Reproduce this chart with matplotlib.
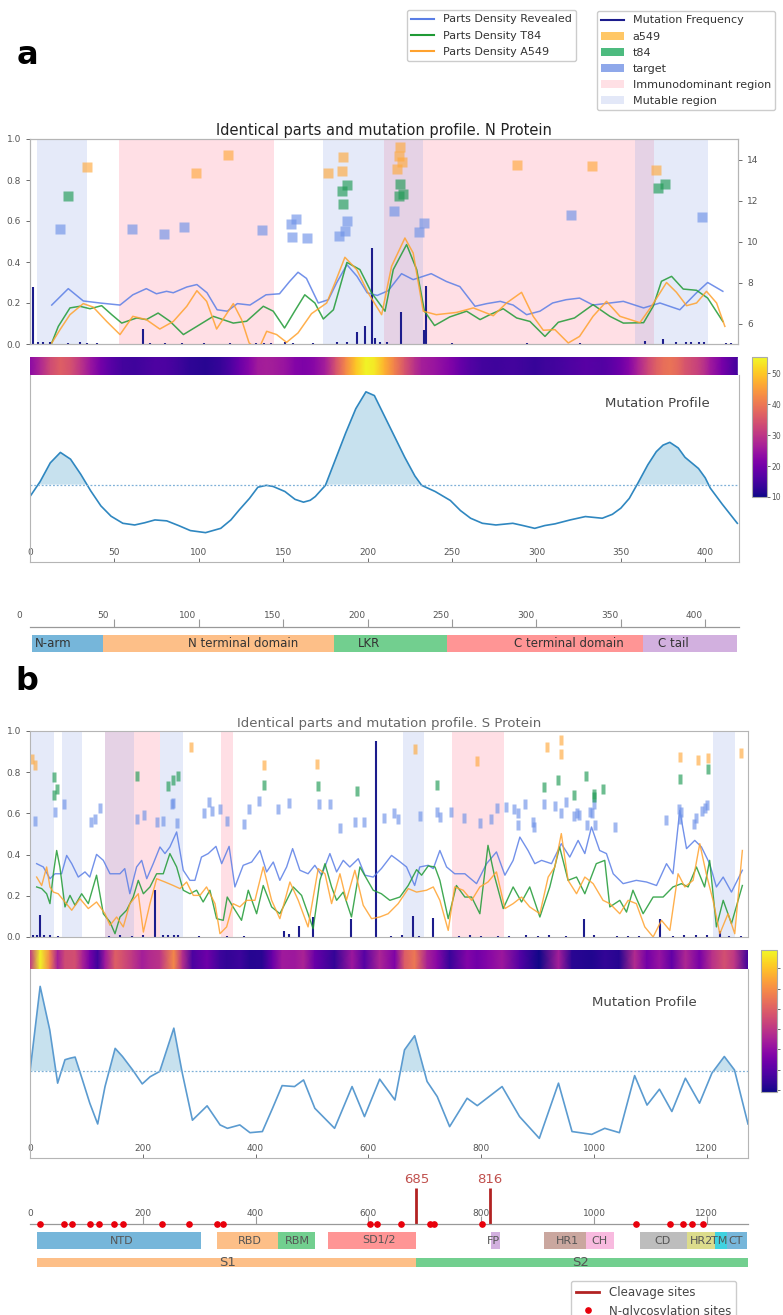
import matplotlib
matplotlib.use("Agg")
import matplotlib.pyplot as plt
import numpy as np
from matplotlib.lines import Line2D
from matplotlib.patches import Patch
from matplotlib.colors import Normalize

W, H = 783, 1315

# ---------------- N protein data ----------------
N_LEN = 420
n_mutable = [(4, 34), (174, 233), (359, 402)]
n_immuno = [(53, 145), (210, 370)]

n_rev_x = [12.9, 22.7, 31.6, 41.5, 53.4, 61, 69, 75, 81, 85, 93, 99, 105, 111, 117, 123, 130.5, 140, 148, 154,
           159, 164, 171, 177, 182, 188, 194, 200, 206, 212.5, 220.4, 227.3, 238, 247, 255, 264, 271, 279, 286.6,
           294.6, 302.5, 310, 318, 326, 334, 344, 352, 364, 373.7, 385.5, 395.4, 402, 411]
n_rev_y = [0.19, 0.27, 0.21, 0.20, 0.19, 0.24, 0.27, 0.245, 0.257, 0.25, 0.278, 0.29, 0.25, 0.167, 0.16, 0.197,
           0.19, 0.24, 0.245, 0.305, 0.35, 0.32, 0.2, 0.216, 0.3, 0.387, 0.33, 0.25, 0.237, 0.26, 0.343, 0.314,
           0.343, 0.305, 0.28, 0.184, 0.197, 0.208, 0.19, 0.143, 0.16, 0.2, 0.216, 0.224, 0.19, 0.2, 0.208, 0.176,
           0.2, 0.167, 0.25, 0.3, 0.257]
n_t84_x = [12.9, 16.8, 23.7, 29.6, 35.6, 42.5, 48.5, 54.4, 63.3, 69, 76, 83, 91, 99, 108.7, 120.6, 128.5, 138.4,
           144.3, 151, 157, 163, 169, 174, 180, 188, 195.7, 202.7, 210.6, 215.5, 223.4, 229.4, 234, 240, 249, 259,
           267, 272.8, 280.7, 288.7, 296.6, 305.5, 313.4, 323, 334, 344, 352, 364, 369.7, 374.6, 380.6, 387.5,
           395.4, 402, 411]
n_t84_y = [0.005, 0.086, 0.176, 0.184, 0.172, 0.187, 0.143, 0.102, 0.127, 0.119, 0.151, 0.111, 0.046, 0.086,
           0.135, 0.102, 0.111, 0.184, 0.16, 0.078, 0.16, 0.24, 0.2, 0.122, 0.167, 0.398, 0.363, 0.249, 0.16,
           0.363, 0.485, 0.363, 0.16, 0.09, 0.132, 0.16, 0.119, 0.143, 0.172, 0.127, 0.11, 0.037, 0.106, 0.127,
           0.192, 0.135, 0.102, 0.104, 0.184, 0.306, 0.33, 0.268, 0.262, 0.224, 0.11]
n_a549_x = [12.9, 17.8, 23.7, 31.6, 37.5, 45.5, 53.4, 61, 69, 77, 85, 93, 99, 104.8, 110.7, 120.6, 125.5, 130,
            135.4, 140.4, 146.3, 152.2, 159, 167, 176, 181, 186.8, 193.8, 200.6, 208.6, 214.5, 222.4, 227.3,
            233.3, 241, 253, 263, 274.8, 282.7, 291.6, 298.5, 304.5, 311.4, 319.3, 326, 334, 342, 350, 361.8,
            368.7, 377.6, 383.5, 389.5, 395.4, 401.3, 407.3, 412.2]
n_a549_y = [0.005, 0.07, 0.143, 0.197, 0.18, 0.11, 0.046, 0.135, 0.119, 0.073, 0.11, 0.184, 0.26, 0.208, 0.073,
            0.197, 0.119, 0.005, -0.03, 0.062, 0.046, 0.008, 0.054, 0.148, 0.2, 0.3, 0.423, 0.363, 0.249, 0.143,
            0.379, 0.517, 0.444, 0.16, 0.143, 0.154, 0.176, 0.138, 0.2, 0.252, 0.135, 0.067, 0.07, 0.005, 0.037,
            0.135, 0.208, 0.135, 0.104, 0.184, 0.3, 0.252, 0.187, 0.2, 0.257, 0.2, 0.086]

n_target_x = [17.8, 60.7, 79.7, 91.5, 137.8, 154.8, 157.6, 155.6, 164.5, 183.5, 186.8, 187.8, 215.7, 230.7,
              233.7, 320.7, 398.8]
n_target_y = [0.563, 0.561, 0.537, 0.569, 0.558, 0.587, 0.61, 0.52, 0.517, 0.525, 0.553, 0.598, 0.65, 0.545,
              0.59, 0.631, 0.62]
n_t84m_x = [22.7, 184.8, 187.8, 185.8, 219.4, 218.9, 221, 372.7, 376.6]
n_t84m_y = [0.72, 0.745, 0.774, 0.685, 0.782, 0.724, 0.733, 0.761, 0.78]
n_a549m_x = [33.6, 98.5, 117.6, 176.6, 185.8, 184.8, 219.4, 218.9, 220.9, 217.5, 288.7, 333.5, 371.5]
n_a549m_y = [0.862, 0.834, 0.924, 0.834, 0.91, 0.842, 0.959, 0.919, 0.888, 0.854, 0.875, 0.867, 0.85]

n_mut_x = [2, 4.9, 7.9, 11.9, 22.7, 29.6, 34, 39.5, 66.8, 71, 80, 90, 103.4, 118.6, 134, 139, 143, 151, 156,
           168, 182, 188, 193.8, 198.7, 203, 204.6, 207.6, 211.5, 219.8, 233.9, 234.7, 250.5, 295, 326, 364.8,
           375.6, 383, 389, 392, 397, 400, 413, 416]
n_mut_y = [0.28, 0.01, 0.008, 0.01, 0.006, 0.008, 0.007, 0.005, 0.073, 0.005, 0.006, 0.006, 0.005, 0.005,
           0.006, 0.005, 0.007, 0.01, 0.006, 0.005, 0.008, 0.01, 0.057, 0.09, 0.47, 0.03, 0.01, 0.008, 0.154,
           0.07, 0.285, 0.006, 0.005, 0.006, 0.015, 0.025, 0.01, 0.012, 0.008, 0.01, 0.008, 0.006, 0.006]

n_prof_x = [0, 6, 12, 18, 24, 30, 36, 42, 48, 55, 62, 68, 74, 81, 88, 95, 104, 113, 119, 124, 130, 135, 140,
            144, 151, 157, 162, 166, 169, 175, 181, 187, 193, 199, 204, 210, 216, 222, 228, 232, 240, 249, 255,
            261, 268, 276, 286, 292, 299, 305, 311, 320, 329, 339, 345, 350, 355, 360, 366, 371, 375, 379, 384,
            388, 392, 396, 400, 403, 410, 419]
n_prof_y = [35, 43, 53, 58.6, 55, 47, 38, 30, 24.5, 20.7, 19.8, 21, 22.5, 22, 19.5, 16.8, 15.7, 18, 22.5, 27.9,
            34, 40, 41, 40.4, 37.7, 33.5, 32, 33, 35, 41, 55, 69, 82, 91, 89, 78, 67, 56, 46, 41, 37.7, 32.9,
            27.5, 23.4, 20.7, 19.8, 20.7, 19.5, 18, 19.5, 20.4, 22.5, 24.3, 23.4, 25.5, 28.8, 34, 42, 52, 59,
            62.5, 64, 61, 56, 53, 50, 45, 39.5, 31, 20.7]
n_thr = 41.4

n_dom_names = ["N-arm", "N terminal domain", "LKR", "C terminal domain", "C tail"]
n_dom_start = [1, 43, 180, 247, 363]
n_dom_end = [43, 180, 247, 363, 419]
n_dom_label_x = [14, 126, 201, 319, 381]
n_dom_colors = ["#76b6da", "#fdbf88", "#72cf8f", "#ff9595", "#d2b0df"]

# ---------------- S protein data ----------------
S_LEN = 1273
s_mutable = [(1, 42.5), (57, 91.6), (133, 184), (230, 272), (660.5, 698), (1211, 1250)]
s_immuno = [(133, 230), (338.5, 360), (749, 840)]

s_rev_x = [11.8, 23.6, 35.4, 44.3, 56, 65, 74, 85.6, 97.5, 106, 118, 130, 141.8, 159.5, 168, 177, 189, 198,
           207, 218.5, 230.4, 239.3, 248, 260, 271.7, 283.6, 292.4, 304, 316, 329.7, 339.8, 353, 363.3, 378,
           393, 407.7, 419.5, 431.3, 443, 455, 465.6, 478.5, 493, 505, 517, 531.7, 543.6, 555.4, 567, 582,
           593.8, 608.5, 623, 641, 652.8, 667.6, 682, 691, 706, 715, 726.7, 738.6, 753, 771, 791.7, 809.5, 827,
           842, 856.6, 868.5, 883, 895, 907, 924.6, 942, 957, 971.8, 983.7, 995.5, 1010, 1022, 1034, 1051.6,
           1075, 1093, 1110.8, 1128.5, 1140, 1152, 1164, 1178.6, 1190.5, 1205, 1217, 1229, 1243.7, 1263]
s_rev_y = [0.356, 0.34, 0.283, 0.307, 0.307, 0.396, 0.356, 0.291, 0.316, 0.291, 0.401, 0.372, 0.307, 0.307,
           0.332, 0.21, 0.34, 0.372, 0.283, 0.356, 0.437, 0.405, 0.437, 0.51, 0.324, 0.275, 0.275, 0.388, 0.405,
           0.44, 0.356, 0.44, 0.243, 0.348, 0.364, 0.42, 0.316, 0.364, 0.275, 0.34, 0.429, 0.324, 0.307, 0.348,
           0.3, 0.405, 0.316, 0.372, 0.34, 0.38, 0.3, 0.291, 0.332, 0.396, 0.372, 0.34, 0.25, 0.34, 0.348, 0.332,
           0.42, 0.34, 0.307, 0.307, 0.259, 0.356, 0.413, 0.3, 0.372, 0.485, 0.42, 0.356, 0.372, 0.356, 0.453,
           0.388, 0.469, 0.405, 0.534, 0.42, 0.405, 0.307, 0.259, 0.275, 0.267, 0.25, 0.356, 0.307, 0.615,
           0.429, 0.469, 0.437, 0.356, 0.243, 0.291, 0.218, 0.324]
s_t84_x = [11.8, 20.7, 29.5, 35.4, 41.4, 47.3, 53, 62, 70.9, 79.8, 91.6, 103.4, 118, 130, 141.8, 150.7, 159.5,
           171.3, 183, 192, 201, 212.7, 224.5, 236.3, 248, 260, 271.7, 283.6, 295.4, 307, 319, 330.8, 342.6,
           349.7, 360, 375, 387, 401.8, 413.5, 428.4, 443, 455, 466.7, 481.5, 493, 502, 514, 523, 534.7, 543.6,
           555.4, 570, 584.9, 596.8, 608.5, 623, 638, 655.8, 670.6, 685.4, 694.3, 706, 718, 726.7, 741.5, 756,
           771, 783, 797.6, 812, 824, 839, 856.6, 871.5, 886, 904, 921.6, 939, 954, 969, 983.7, 1004, 1019,
           1028, 1045.7, 1057.6, 1069, 1087, 1104.8, 1122.5, 1140, 1155, 1166.8, 1181.6, 1196, 1205, 1217,
           1229, 1243.7, 1263]
s_t84_y = [0.243, 0.235, 0.21, 0.162, 0.307, 0.42, 0.34, 0.146, 0.202, 0.154, 0.21, 0.162, 0.3, 0.113, 0.073,
           0.016, 0.097, 0.13, 0.194, 0.275, 0.21, 0.243, 0.307, 0.307, 0.405, 0.34, 0.227, 0.21, 0.227, 0.17,
           0.227, 0.089, 0.081, 0.194, 0.146, 0.081, 0.227, 0.113, 0.25, 0.146, 0.113, 0.178, 0.243, 0.202,
           0.113, 0.04, 0.275, 0.356, 0.243, 0.178, 0.218, 0.097, 0.34, 0.283, 0.227, 0.21, 0.178, 0.194, 0.25,
           0.327, 0.3, 0.345, 0.34, 0.275, 0.089, 0.25, 0.194, 0.194, 0.113, 0.445, 0.291, 0.138, 0.243, 0.17,
           0.243, 0.097, 0.243, 0.437, 0.275, 0.291, 0.21, 0.356, 0.372, 0.146, 0.178, 0.121, 0.227, 0.113,
           0.194, 0.194, 0.243, 0.259, 0.243, 0.34, 0.243, 0.372, 0.049, 0.178, 0.065, 0.25]
s_a549_x = [11.8, 20.7, 29.5, 35.4, 41.4, 50, 62, 74, 88.6, 103.4, 118, 133, 141.8, 153.6, 165.4, 177, 192,
            201, 212.7, 224.5, 239.3, 254, 265.9, 277.7, 289.5, 301.3, 313, 328, 336.8, 348.6, 360, 372, 384,
            398.8, 413.5, 428.4, 443, 460.8, 475.6, 493, 511, 523, 534.7, 549.5, 561, 576, 590.8, 605.6, 620,
            635, 652.8, 670.6, 685.4, 703, 715, 726.7, 741.5, 753, 768, 783, 797.6, 812, 827, 842, 856.6, 871.5,
            886, 904, 918.7, 930.5, 942, 954, 969, 983.7, 998.5, 1016, 1028, 1045.7, 1060.5, 1075, 1090, 1104.8,
            1119.6, 1134.4, 1149, 1161, 1175.6, 1187.5, 1199, 1211, 1223, 1237.6, 1249.5, 1263]
s_a549_y = [0.291, 0.25, 0.34, 0.243, 0.218, 0.21, 0.17, 0.13, 0.186, 0.138, 0.17, 0.113, 0.057, 0.097, 0.049,
            0.162, 0.21, 0.024, 0.162, 0.283, 0.267, 0.25, 0.235, 0.267, 0.202, 0.202, 0.243, 0.162, 0.016,
            0.049, 0.162, 0.146, 0.178, 0.178, 0.34, 0.178, 0.089, 0.267, 0.178, 0.049, 0.332, 0.307, 0.162,
            0.307, 0.178, 0.324, 0.154, 0.089, 0.097, 0.113, 0.162, 0.235, 0.218, 0.227, 0.243, 0.178, 0.032,
            0.243, 0.227, 0.178, 0.243, 0.267, 0.316, 0.138, 0.162, 0.194, 0.146, 0.113, 0.291, 0.34, 0.502,
            0.275, 0.21, 0.291, 0.259, 0.178, 0.162, 0.113, 0.178, 0.162, 0.049, 0.0, 0.081, 0.032, 0.307,
            0.243, 0.275, 0.453, 0.307, 0.178, 0.016, 0.113, 0.016, 0.42]

s_target_x = [8.9, 44.3, 60, 109, 116, 124, 189, 202, 225.6, 235, 251, 254, 261, 309, 318, 322, 336.8, 349.7,
              380, 388.7, 406.4, 440, 459.6, 512.8, 531.7, 549.5, 576, 592, 628, 645, 652.8, 691, 722, 726.7,
              745.6, 769, 797.6, 818, 828, 843.7, 858, 865.5, 865.5, 877, 891, 893, 911, 930.5, 942, 949.5,
              964.7, 969, 973, 987.8, 992.6, 996.6, 1001.4, 1000, 1037, 1128.5, 1150.8, 1152, 1155, 1177,
              1180.4, 1192.3, 1196.4, 1201]
s_target_y = [0.563, 0.607, 0.644, 0.558, 0.574, 0.628, 0.574, 0.59, 0.558, 0.563, 0.644, 0.65, 0.553, 0.6,
              0.655, 0.61, 0.623, 0.563, 0.547, 0.62, 0.66, 0.623, 0.652, 0.644, 0.644, 0.531, 0.558, 0.558,
              0.579, 0.6, 0.574, 0.586, 0.607, 0.583, 0.607, 0.579, 0.553, 0.574, 0.628, 0.631, 0.623, 0.6,
              0.542, 0.647, 0.558, 0.534, 0.644, 0.634, 0.6, 0.655, 0.586, 0.6, 0.591, 0.542, 0.607, 0.6, 0.542,
              0.647, 0.534, 0.57, 0.623, 0.574, 0.607, 0.55, 0.579, 0.612, 0.628, 0.639]
s_t84m_x = [43, 47.3, 42.5, 189, 244, 254, 261.7, 414.7, 511, 579, 720.8, 911, 936.4, 964, 985.5, 1000, 1000,
            1015.6, 1152, 1202]
s_t84m_y = [0.777, 0.72, 0.688, 0.78, 0.731, 0.764, 0.78, 0.736, 0.731, 0.709, 0.736, 0.728, 0.76, 0.688,
            0.78, 0.693, 0.68, 0.72, 0.765, 0.817]
s_a549m_x = [4, 8.9, 284.8, 414.7, 509, 682, 793, 915.8, 941, 941.6, 1152, 1184.5, 1202, 1260]
s_a549m_y = [0.866, 0.833, 0.922, 0.833, 0.841, 0.911, 0.853, 0.922, 0.958, 0.887, 0.874, 0.861, 0.87, 0.895]

s_mut_x = [5, 12, 17.7, 25, 35, 50, 140, 160, 180, 200, 221.5, 235, 245, 255, 262, 300, 350, 380, 450, 460,
           477, 501, 570, 613, 640, 660, 679, 690, 715, 760, 780, 800, 830, 850, 880, 900, 920, 950, 982.5,
           1000, 1040, 1060, 1080, 1116.6, 1140, 1160, 1180, 1200, 1223, 1240, 1260]
s_mut_y = [0.012, 0.01, 0.105, 0.008, 0.01, 0.006, 0.006, 0.008, 0.006, 0.01, 0.227, 0.008, 0.01, 0.012, 0.008,
           0.006, 0.006, 0.005, 0.03, 0.015, 0.055, 0.097, 0.089, 0.951, 0.006, 0.008, 0.1, 0.006, 0.094, 0.006,
           0.008, 0.005, 0.006, 0.005, 0.008, 0.006, 0.01, 0.006, 0.089, 0.008, 0.006, 0.006, 0.005, 0.089,
           0.006, 0.01, 0.008, 0.01, 0.03, 0.006, 0.005]

s_prof_x = [0, 18, 35, 49, 62, 71, 80, 93, 106, 120, 133, 151, 164, 182, 199, 213, 230, 255, 270, 288, 314,
            337, 350, 372, 390, 412, 430, 447, 469, 485, 505, 540, 571, 593, 620, 647, 664, 682, 704, 722, 744,
            775, 793, 810, 837, 868, 903, 937, 961, 996, 1019, 1045, 1072, 1094, 1116, 1138, 1162, 1187, 1209,
            1231, 1249, 1273]
s_prof_y = [45.8, 90.8, 67.8, 39.6, 52, 52.8, 53.4, 41.3, 29, 18, 37.8, 58, 53.7, 46.6, 39.2, 43, 45.8, 68.7,
            44.9, 20, 27.6, 17.5, 15.7, 17.5, 13.4, 14, 26.3, 38.3, 37.8, 41.3, 26.3, 15.7, 37.8, 21.9, 41.7,
            30.7, 57.2, 64.7, 40.5, 32.5, 16.6, 31.6, 27.7, 31.6, 37.8, 21.9, 10.4, 39.6, 14, 12.5, 15.7, 13.4,
            43.6, 28, 36.4, 24.6, 42.2, 29, 44.9, 53.7, 46.6, 18]
s_thr = 46.1

s_dom_names = ["NTD", "RBD", "RBM", "SD1/2", "FP", "HR1", "CH", "CD", "HR2", "TM", "CT"]
s_dom_start = [12, 331, 439, 528, 817, 911, 986, 1081, 1164, 1214, 1236]
s_dom_end = [304, 439, 506, 684, 834, 986, 1035, 1164, 1214, 1236, 1272]
s_dom_label_x = [163, 390, 474, 618, 822, 952, 1010, 1121, 1191, 1222, 1251]
s_dom_colors = ["#76b6da", "#fdbf88", "#72cf8f", "#ff9595", "#d2b0df", "#caa79f", "#f8badf", "#bdbdbd",
                "#dcdc8c", "#3fd2e0", "#76b6da"]
s_sub_names = ["S1", "S2"]
s_sub_start = [12, 685]
s_sub_end = [685, 1273]
s_sub_label_x = [350, 977]
s_sub_colors = ["#fdbf88", "#72cf8f"]

cleavage_sites = [685, 816]
glyco_sites = [17, 61, 74, 106, 122, 149, 165, 234, 282, 331, 343, 603, 616, 657, 709, 717, 801, 1074, 1134,
               1158, 1173, 1194]

# ---------------- styles ----------------
C_REV, C_T84, C_A549, C_MUT = "#5a7ee6", "#1f9a35", "#ffa22e", "#1c1c8c"
M_TARGET, M_T84, M_A549 = "#6f93e8", "#1f9a55", "#ffaa40"
PINK, LAV = "#ff8fa3", "#9aaee8"
GRAY, TXT = "#b5b5b5", "#555555"
RECT = [(-0.45, -1), (0.45, -1), (0.45, 1), (-0.45, 1), (-0.45, -1)]


def rect(x0, y0, x1, y1):
    # pixel box measured from the top-left corner -> figure fraction
    return [x0 / W, 1 - y1 / H, (x1 - x0) / W, (y1 - y0) / H]


def frame(ax, color=GRAY):
    for s in ax.spines.values():
        s.set_color(color)
        s.set_linewidth(0.8)


def density_panel(ax, length, title, tsize, tcolor, mutable, immuno, curves, mut, marks, marker, ms, lw):
    for a, b in immuno:
        ax.axvspan(a, b, color=PINK, alpha=0.28, lw=0)
    for a, b in mutable:
        ax.axvspan(a, b, color=LAV, alpha=0.25, lw=0)
    ax.vlines(mut[0], 0, mut[1], color=C_MUT, lw=1.5)
    for (x, y), c in zip(curves, [C_REV, C_T84, C_A549]):
        ax.plot(x, y, color=c, lw=lw, alpha=0.85)
    for (x, y), c in zip(marks, [M_TARGET, M_T84, M_A549]):
        ax.plot(x, y, ls="none", marker=marker, ms=ms, color=c, alpha=0.65, mec="none")
    ax.set_xlim(0, length)
    ax.set_ylim(0, 1)
    ax.set_xticks([])
    ax.set_yticks([0, 0.2, 0.4, 0.6, 0.8, 1.0])
    ax.tick_params(axis="y", labelsize=6.5, colors=TXT, length=3, width=0.6)
    frame(ax)
    ax.set_title(title, fontsize=tsize, color=tcolor, pad=3)


def profile_panel(ax_strip, ax, x, y, thr, length, ticks, norm, lcolor, label_pos):
    xs = np.asarray(x, dtype=float)
    ys = np.asarray(y, dtype=float)
    X = np.vstack([xs, xs])
    Y = np.vstack([np.zeros_like(xs), np.ones_like(xs)])
    C = np.vstack([ys, ys])
    ax_strip.pcolormesh(X, Y, C, cmap="plasma", norm=norm, shading="gouraud")
    ax_strip.set_xlim(0, length)
    ax_strip.set_ylim(0, 1)
    ax_strip.axis("off")

    ax.fill_between(xs, ys, thr, where=ys > thr, interpolate=True, color="#a9d2e5", alpha=0.65, lw=0)
    ax.plot(xs, ys, color=lcolor, lw=1.2)
    ax.axhline(thr, color="#7eb0d8", ls=(0, (1.5, 1.5)), lw=0.9)
    ax.set_xlim(0, length)
    ax.set_ylim(0, 100)
    ax.set_yticks([])
    ax.set_xticks(ticks)
    ax.tick_params(axis="x", direction="in", pad=-10, labelsize=6.5, colors=TXT, length=3, width=0.6)
    frame(ax)
    ax.spines["top"].set_visible(False)
    ax.text(label_pos[0], label_pos[1], "Mutation Profile", transform=ax.transAxes, ha="center",
            va="center", fontsize=9.5, color="#444444")


def ruler(ax, length, ticks, dx, dy):
    ax.set_xlim(0, length)
    ax.set_ylim(0, 1)
    for s in ["top", "left", "right"]:
        ax.spines[s].set_visible(False)
    ax.spines["bottom"].set_color("#999999")
    ax.spines["bottom"].set_linewidth(0.9)
    ax.set_yticks([])
    ax.set_xticks(ticks)
    ax.set_xticklabels([])
    ax.tick_params(axis="x", direction="in", length=6, width=0.8, colors="#999999")
    for t in [0] + list(ticks):
        ax.annotate(str(t), (t, 0), xytext=(dx, dy), textcoords="offset pixels", ha="center", va="bottom",
                    fontsize=6.5, color=TXT, annotation_clip=False)


def domain_bar(ax, length, starts, ends, colors, names, label_x, fsize, tcolor):
    ax.barh(0.5, np.array(ends) - np.array(starts), left=starts, height=1, color=colors, lw=0)
    for lx, nm in zip(label_x, names):
        ax.text(lx, 0.5, nm, ha="center", va="center", fontsize=fsize, color=tcolor)
    ax.set_xlim(0, length)
    ax.set_ylim(0, 1)
    ax.axis("off")


fig = plt.figure(figsize=(W / 100, H / 100), dpi=100)

# ================= panel a =================
fig.text(27 / W, 1 - 55 / H, "a", fontsize=23, fontweight="bold", ha="center", va="center")

ax_n = fig.add_axes(rect(30, 139, 738, 344))
density_panel(ax_n, N_LEN, "Identical parts and mutation profile. N Protein", 10.5, "#222222",
              n_mutable, n_immuno,
              [(n_rev_x, n_rev_y), (n_t84_x, n_t84_y), (n_a549_x, n_a549_y)],
              (n_mut_x, n_mut_y),
              [(n_target_x, n_target_y), (n_t84m_x, n_t84m_y), (n_a549m_x, n_a549m_y)], "s", 7, 1.1)
ax_n2 = ax_n.twinx()
ax_n2.set_ylim(5, 15)
ax_n2.set_yticks([6, 8, 10, 12, 14])
ax_n2.tick_params(axis="y", labelsize=6.5, colors=TXT, length=3, width=0.6)
frame(ax_n2)

leg1 = [Line2D([], [], color=C_REV, lw=1.5), Line2D([], [], color=C_T84, lw=1.5),
        Line2D([], [], color=C_A549, lw=1.5)]
fig.legend(leg1, ["Parts Density Revealed", "Parts Density T84", "Parts Density A549"],
           loc="upper left", bbox_to_anchor=(407 / W, 1 - 10 / H), fontsize=8, labelspacing=0.55,
           borderaxespad=0, edgecolor="#cccccc", framealpha=1, labelcolor="#333333")
leg2 = [Line2D([], [], color=C_MUT, lw=1.5), Patch(facecolor="#ffc766", lw=0), Patch(facecolor="#4dbb7f", lw=0),
        Patch(facecolor="#8fa8ea", lw=0), Patch(facecolor="#ffe0e5", lw=0), Patch(facecolor="#e3e8f8", lw=0)]
fig.legend(leg2, ["Mutation Frequency", "a549", "t84", "target", "Immunodominant region", "Mutable region"],
           loc="upper left", bbox_to_anchor=(597 / W, 1 - 11 / H), fontsize=8, labelspacing=0.55,
           borderaxespad=0, edgecolor="#cccccc", framealpha=1, labelcolor="#333333")

ax_ns = fig.add_axes(rect(30, 357, 739, 375))
ax_np = fig.add_axes(rect(30, 375, 739, 562))
profile_panel(ax_ns, ax_np, n_prof_x, n_prof_y, n_thr, N_LEN, list(range(0, 401, 50)),
              Normalize(12, 92), "#2f87c0", (0.885, 0.85))
cax_n = fig.add_axes(rect(752, 357, 767, 497))
cb = fig.colorbar(plt.cm.ScalarMappable(norm=Normalize(10, 55.2), cmap="plasma"), cax=cax_n,
                  ticks=[10, 20, 30, 40, 50])
cb.ax.tick_params(labelsize=5.5, colors=TXT, length=2, width=0.6, pad=1)
cb.outline.set_edgecolor("#aaaaaa")

ax_nr = fig.add_axes(rect(30, 600, 739, 627))
ruler(ax_nr, N_LEN, list(range(50, 401, 50)), -11, 7)
ax_nd = fig.add_axes(rect(30, 635, 739, 652))
domain_bar(ax_nd, N_LEN, n_dom_start, n_dom_end, n_dom_colors, n_dom_names, n_dom_label_x, 8.5, "#333333")

# ================= panel b =================
fig.text(27 / W, 1 - 682 / H, "b", fontsize=23, fontweight="bold", ha="center", va="center")

ax_s = fig.add_axes(rect(30, 731, 748, 937))
density_panel(ax_s, S_LEN, "Identical parts and mutation profile. S Protein", 9.5, "#666666",
              s_mutable, s_immuno,
              [(s_rev_x, s_rev_y), (s_t84_x, s_t84_y), (s_a549_x, s_a549_y)],
              (s_mut_x, s_mut_y),
              [(s_target_x, s_target_y), (s_t84m_x, s_t84m_y), (s_a549m_x, s_a549m_y)], RECT, 7.5, 1.0)

ax_ss = fig.add_axes(rect(30, 950, 748, 969))
ax_sp = fig.add_axes(rect(30, 969, 748, 1158))
profile_panel(ax_ss, ax_sp, s_prof_x, s_prof_y, s_thr, S_LEN, list(range(0, 1201, 200)),
              Normalize(10, 92), "#5b9bd0", (0.855, 0.825))
cax_s = fig.add_axes(rect(761, 950, 777, 1092))
cb2 = fig.colorbar(plt.cm.ScalarMappable(norm=Normalize(9, 79), cmap="plasma"), cax=cax_s,
                   ticks=[10, 20, 30, 40, 50, 60, 70])
# the tick labels of this colour bar fall outside the figure in the original
cb2.ax.set_yticklabels([])
cb2.ax.tick_params(colors=TXT, length=2, width=0.6)
cb2.outline.set_edgecolor("#aaaaaa")

ax_sr = fig.add_axes(rect(30, 1170, 748, 1224))
ruler(ax_sr, S_LEN, list(range(200, 1201, 200)), 0, 6)
ax_sr.vlines(cleavage_sites, 0, 0.67, color="#b22222", lw=2)
for c in cleavage_sites:
    ax_sr.text(c, 0.83, str(c), ha="center", va="center", fontsize=9.5, color="#c0504d")
ax_sr.plot(glyco_sites, np.zeros(len(glyco_sites)), ls="none", marker="o", ms=3.8, color="#e8000b",
           clip_on=False, zorder=5)

ax_sd = fig.add_axes(rect(30, 1232, 748, 1249))
domain_bar(ax_sd, S_LEN, s_dom_start, s_dom_end, s_dom_colors, s_dom_names, s_dom_label_x, 8, "#555555")
ax_su = fig.add_axes(rect(30, 1258, 748, 1267))
domain_bar(ax_su, S_LEN, s_sub_start, s_sub_end, s_sub_colors, s_sub_names, s_sub_label_x, 9.5, "#555555")

leg3 = [Line2D([], [], color="#b22222", lw=2),
        Line2D([], [], ls="none", marker="o", ms=3.8, color="#e8000b")]
fig.legend(leg3, ["Cleavage sites", "N-glycosylation sites"], loc="upper left",
           bbox_to_anchor=(571 / W, 1 - 1281 / H), fontsize=8.5, labelspacing=0.5, borderaxespad=0,
           edgecolor="#cccccc", framealpha=1, labelcolor="#444444")

fig.savefig("out.png", dpi=100)
